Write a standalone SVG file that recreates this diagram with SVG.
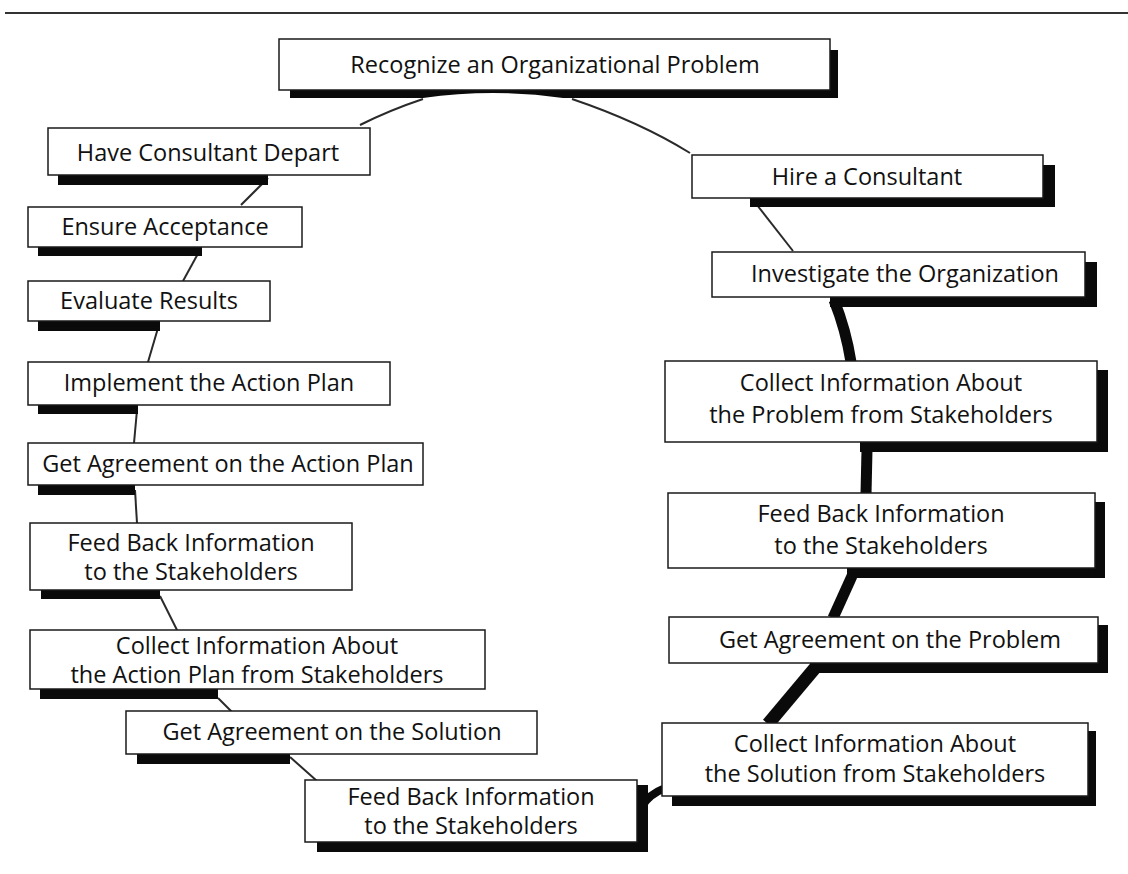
<svg xmlns="http://www.w3.org/2000/svg" width="1128" height="874" viewBox="0 0 1128 874">
<style>
.box{fill:#fff;stroke:#1a1a1a;stroke-width:1.5}
.sh{fill:#0a0a0a}
.t{font-family:"Open Sans","Noto Sans","Liberation Sans",sans-serif;font-size:23.5px;fill:#111;text-anchor:middle}
.thin{fill:none;stroke:#2a2a2a;stroke-width:2}
.thick{fill:none;stroke:#0a0a0a;stroke-linecap:butt}
</style>
<rect width="1128" height="874" fill="#fff"/>
<line x1="5" y1="13" x2="1128" y2="13" stroke="#333" stroke-width="2"/>
<g id="connectors">
<path class="thin" d="M360,125 Q390,110 423,99"/>
<path class="thin" d="M572,99 Q640,122 690,153"/>
<path class="thin" d="M757,205 L793,251"/>
<path class="thick" stroke-width="11" d="M834,300 Q846,330 851,362"/>
<path class="thick" stroke-width="11" d="M867,450 L866,494"/>
<path class="thick" stroke-width="11" d="M852,576 L833,618"/>
<path class="thick" stroke-width="13" d="M815,668 L768,724"/>
<path class="thick" stroke-width="8" d="M663,789 Q650,794 642,806"/>
<path class="thin" stroke-width="3" d="M317,781 L290,757"/>
<path class="thin" d="M218,698 L232,712"/>
<path class="thin" d="M160,596 L177,630"/>
<path class="thin" d="M135,490 L137,523"/>
<path class="thin" d="M137,410 L134,443"/>
<path class="thin" d="M158,328 L148,362"/>
<path class="thin" d="M200,250 L183,281"/>
<path class="thin" d="M268,178 L241,205"/>
</g>
<g id="n1">
<path class="sh" d="M290,89 H830 V50 H838 V98 H563 Q493 88 423 98 H290 Z"/>
<rect class="box" x="279" y="39" width="551" height="51"/>
<text class="t" x="555" y="73">Recognize an Organizational Problem</text>
</g>
<g id="n2">
<rect class="sh" x="750" y="198" width="305" height="9"/>
<rect class="sh" x="1043" y="165" width="12" height="42"/>
<rect class="box" x="692" y="155" width="351" height="43"/>
<text class="t" x="867" y="185">Hire a Consultant</text>
</g>
<g id="n3">
<rect class="sh" x="830" y="297" width="267" height="10"/>
<rect class="sh" x="1085" y="262" width="12" height="45"/>
<rect class="box" x="712" y="252" width="373" height="45"/>
<text class="t" x="905" y="282">Investigate the Organization</text>
</g>
<g id="n4">
<rect class="sh" x="860" y="442" width="248" height="10"/>
<rect class="sh" x="1097" y="370" width="11" height="82"/>
<rect class="box" x="665" y="361" width="432" height="81"/>
<text class="t" x="881" y="391">Collect Information About</text>
<text class="t" x="881" y="423">the Problem from Stakeholders</text>
</g>
<g id="n5">
<rect class="sh" x="847" y="568" width="258" height="10"/>
<rect class="sh" x="1095" y="502" width="10" height="76"/>
<rect class="box" x="668" y="493" width="427" height="75"/>
<text class="t" x="881" y="522">Feed Back Information</text>
<text class="t" x="881" y="554">to the Stakeholders</text>
</g>
<g id="n6">
<rect class="sh" x="810" y="663" width="298" height="10"/>
<rect class="sh" x="1098" y="625" width="10" height="48"/>
<rect class="box" x="669" y="617" width="429" height="46"/>
<text class="t" x="890" y="648">Get Agreement on the Problem</text>
</g>
<g id="n7">
<rect class="sh" x="672" y="796" width="424" height="10"/>
<rect class="sh" x="1088" y="731" width="8" height="75"/>
<rect class="box" x="662" y="723" width="426" height="73"/>
<text class="t" x="875" y="752">Collect Information About</text>
<text class="t" x="875" y="782">the Solution from Stakeholders</text>
</g>
<g id="n8">
<rect class="sh" x="317" y="842" width="331" height="10"/>
<rect class="sh" x="637" y="785" width="11" height="67"/>
<rect class="box" x="305" y="780" width="332" height="62"/>
<text class="t" x="471" y="805">Feed Back Information</text>
<text class="t" x="471" y="834">to the Stakeholders</text>
</g>
<g id="n9">
<rect class="sh" x="137" y="754" width="153" height="10"/>
<rect class="box" x="126" y="711" width="411" height="43"/>
<text class="t" x="332" y="740">Get Agreement on the Solution</text>
</g>
<g id="n10">
<rect class="sh" x="40" y="689" width="178" height="10"/>
<rect class="box" x="30" y="630" width="455" height="59"/>
<text class="t" x="257" y="654">Collect Information About</text>
<text class="t" x="257" y="683">the Action Plan from Stakeholders</text>
</g>
<g id="n11">
<rect class="sh" x="41" y="590" width="119" height="9"/>
<rect class="box" x="30" y="523" width="322" height="67"/>
<text class="t" x="191" y="551">Feed Back Information</text>
<text class="t" x="191" y="580">to the Stakeholders</text>
</g>
<g id="n12">
<rect class="sh" x="38" y="485" width="97" height="10"/>
<rect class="box" x="28" y="443" width="395" height="42"/>
<text class="t" x="228" y="472">Get Agreement on the Action Plan</text>
</g>
<g id="n13">
<rect class="sh" x="38" y="405" width="100" height="9"/>
<rect class="box" x="28" y="362" width="362" height="43"/>
<text class="t" x="209" y="391">Implement the Action Plan</text>
</g>
<g id="n14">
<rect class="sh" x="38" y="321" width="122" height="10"/>
<rect class="box" x="28" y="281" width="242" height="40"/>
<text class="t" x="149" y="309">Evaluate Results</text>
</g>
<g id="n15">
<rect class="sh" x="38" y="247" width="164" height="9"/>
<rect class="box" x="28" y="207" width="274" height="40"/>
<text class="t" x="165" y="235">Ensure Acceptance</text>
</g>
<g id="n16">
<rect class="sh" x="58" y="175" width="210" height="10"/>
<rect class="box" x="48" y="128" width="322" height="47"/>
<text class="t" x="208" y="161">Have Consultant Depart</text>
</g>
</svg>
